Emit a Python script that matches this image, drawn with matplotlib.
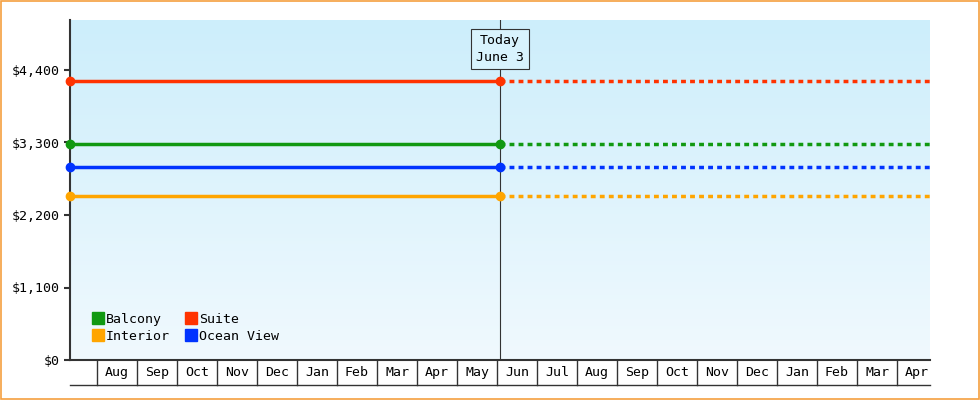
import matplotlib.pyplot as plt
import numpy as np
from matplotlib.colors import LinearSegmentedColormap

# x in months: Aug = 1 ... Apr = 21, Jun 3 ~ 11.1
months = ["Aug", "Sep", "Oct", "Nov", "Dec", "Jan", "Feb", "Mar", "Apr", "May",
          "Jun", "Jul", "Aug", "Sep", "Oct", "Nov", "Dec", "Jan", "Feb", "Mar", "Apr"]
x_start = 0.325
x_today = 11.08
x_end = 21.825
series = ["Balcony", "Interior", "Suite", "Ocean View"]
prices = [3280, 2490, 4230, 2930]
colors = ["#119911", "#ffa500", "#ff3300", "#0033ff"]

plt.rcParams['font.family'] = ['DejaVu Sans Mono']
fig = plt.figure(figsize=(9.8, 4), dpi=100)
fig.patches.append(plt.Rectangle((0.001, 0.002), 0.998, 0.996, transform=fig.transFigure,
                                 fill=False, edgecolor="#f5a040", linewidth=1.2))
ax = fig.add_axes([70/980, 40/400, 860/980, 340/400])
ax.set_xlim(x_start, x_end)
ax.set_ylim(0, 4400 * 340 / 290)

cmap = LinearSegmentedColormap.from_list("bg", ["#f0f9fe", "#cdeefb"])
ax.imshow(np.linspace(0, 1, 100).reshape(-1, 1), aspect="auto", cmap=cmap, origin="lower",
          extent=[0, 1, 0, 1], transform=ax.transAxes, zorder=0)

for name, p, c in zip(series, prices, colors):
    ax.plot([x_start, x_today], [p, p], color=c, lw=2.5, zorder=3, clip_on=False)
    ax.plot([x_start, x_today], [p, p], "o", color=c, ms=6, zorder=4, clip_on=False)
    ax.plot([x_today, x_end], [p, p], color=c, lw=2.5, ls=(0, (1.4, 1.2)), zorder=3)
    ax.plot([], [], "s", color=c, ms=9, label=name)

ax.axvline(x_today, color="#333333", lw=0.8, zorder=2)
ax.text(x_today, 4720, "Today\nJune 3", ha="center", va="center", fontsize=9.5,
        linespacing=1.4, bbox=dict(boxstyle="square,pad=0.4", fc="#d8f3fd", ec="#333333", lw=0.8))

ax.set_yticks([0, 1100, 2200, 3300, 4400])
ax.set_yticklabels(["$0", "$1,100", "$2,200", "$3,300", "$4,400"], fontsize=9.5)
ax.tick_params(axis="y", length=4, width=1.5, color="#333333")
ax.set_xticks([])
for s in ["top", "right"]:
    ax.spines[s].set_visible(False)
ax.spines["left"].set_linewidth(1.5)
ax.spines["left"].set_color("#333333")
ax.spines["bottom"].set_linewidth(1.5)
ax.spines["bottom"].set_color("#333333")

# month cells below the axis
h = 25 / 340
tr = ax.get_xaxis_transform()
for i, m in enumerate(months):
    xm = i + 1
    ax.plot([xm, xm], [0, -h], color="#333333", lw=1, transform=tr, clip_on=False)
    ax.text(xm + 0.5, -h / 2, m, ha="center", va="center", fontsize=9.5, transform=tr)
ax.plot([x_start, x_end], [-h, -h], color="#333333", lw=1, transform=tr, clip_on=False)

ax.legend(loc="lower left", bbox_to_anchor=(0.02, 0.035), ncol=2, frameon=False, fontsize=9.5,
          handlelength=0.8, handletextpad=0.2, columnspacing=1.2, labelspacing=0.3,
          borderaxespad=0)

fig.savefig("out.png", dpi=100)
